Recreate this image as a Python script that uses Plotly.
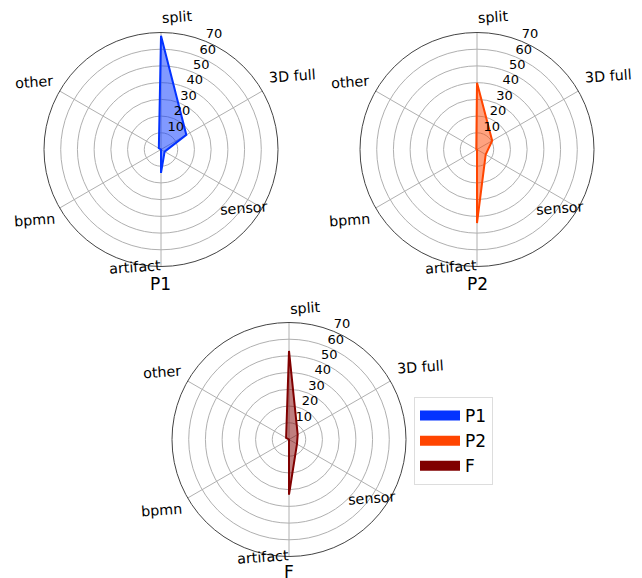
import plotly.graph_objects as go

categories = ["split", "3D full", "sensor", "artifact", "bpmn", "other"]
p1_values = [68, 17.5, 2.5, 14, 0, 1.5]
p2_values = [40, 10.5, 6, 44, 0, 0.5]
f_values = [53, 6, 5.5, 33, 0, 2]
radial_ticks = [10, 20, 30, 40, 50, 60, 70]
radial_max = 70

n = len(categories)
angles = [i * 360.0 / n for i in range(n)]

series = [
    ("P1", p1_values, "#0433FF", "rgba(4,51,255,0.5)", "polar"),
    ("P2", p2_values, "#FF4500", "rgba(255,69,0,0.5)", "polar2"),
    ("F", f_values, "#800000", "rgba(128,0,0,0.5)", "polar3"),
]

FONT = "DejaVu Sans"
W, H = 642, 578
R_PX = 117
centers = [(161, 149.5), (477, 149.5), (289, 439.5)]
# label offsets (px) from each subplot centre
label_off = [(16, -132), (131, -73), (83, 58), (-26, 117), (-127, 70), (-127, -68)]

fig = go.Figure()
for name, vals, col, fillc, sp in series:
    fig.add_trace(go.Scatterpolar(
        r=vals + [vals[0]], theta=angles + [angles[0]],
        mode="lines", fill="toself", fillcolor=fillc,
        line=dict(color=col, width=2), name=name, subplot=sp,
        showlegend=False, hoverinfo="skip",
    ))
    fig.add_trace(go.Scatterpolar(
        r=radial_ticks, theta=[22.5] * len(radial_ticks), mode="text",
        text=[str(t) for t in radial_ticks], textposition="top right",
        textfont=dict(size=13, family=FONT, color="black"),
        cliponaxis=False, showlegend=False, hoverinfo="skip", subplot=sp,
    ))

for name, vals, col, fillc, sp in series:
    fig.add_trace(go.Scatterpolar(
        r=[None], theta=[None], mode="lines",
        line=dict(color=col, width=13), name=name, subplot="polar3",
        showlegend=True, hoverinfo="skip",
    ))


def dom(cx, cy, r):
    return dict(x=[(cx - r) / W, (cx + r) / W], y=[1 - (cy + r) / H, 1 - (cy - r) / H])


def polar_cfg(c):
    return dict(
        domain=dom(c[0], c[1], R_PX),
        bgcolor="white",
        angularaxis=dict(
            rotation=90, direction="clockwise", thetaunit="degrees",
            tickvals=angles, showticklabels=False,
            showline=True, linecolor="#444444", linewidth=1,
            gridcolor="#b0b0b0", gridwidth=1, ticks="",
        ),
        radialaxis=dict(
            range=[0, radial_max], tickvals=radial_ticks, showline=False, ticks="",
            showticklabels=False, gridcolor="#b0b0b0", gridwidth=1,
        ),
    )


def text_ann(txt, x, y, size, angle=0):
    return dict(text=txt, x=x / W, y=1 - y / H, xref="paper", yref="paper",
                xanchor="center", yanchor="middle", showarrow=False, textangle=angle,
                font=dict(size=size, family=FONT, color="black"))


annotations = []
for (cx, cy) in centers:
    for cat, (dx, dy) in zip(categories, label_off):
        annotations.append(text_ann(cat, cx + dx, cy + dy, 14.3, -4))
annotations += [text_ann("P1", 161, 283.5, 17), text_ann("P2", 477, 283.5, 17),
                text_ann("F", 289, 572, 17)]

fig.update_layout(
    width=W, height=H,
    margin=dict(l=0, r=0, t=0, b=0),
    paper_bgcolor="white",
    font=dict(family=FONT, color="black"),
    polar=polar_cfg(centers[0]),
    polar2=polar_cfg(centers[1]),
    polar3=polar_cfg(centers[2]),
    showlegend=True,
    legend=dict(x=414 / W, y=1 - 397 / H, xanchor="left", yanchor="top", itemwidth=40,
                bordercolor="#dddddd", borderwidth=1, font=dict(size=17, family=FONT)),
    annotations=annotations,
)

fig.write_html("out.html", config={"displayModeBar": False},
               post_script="document.body.style.margin='0px';")
